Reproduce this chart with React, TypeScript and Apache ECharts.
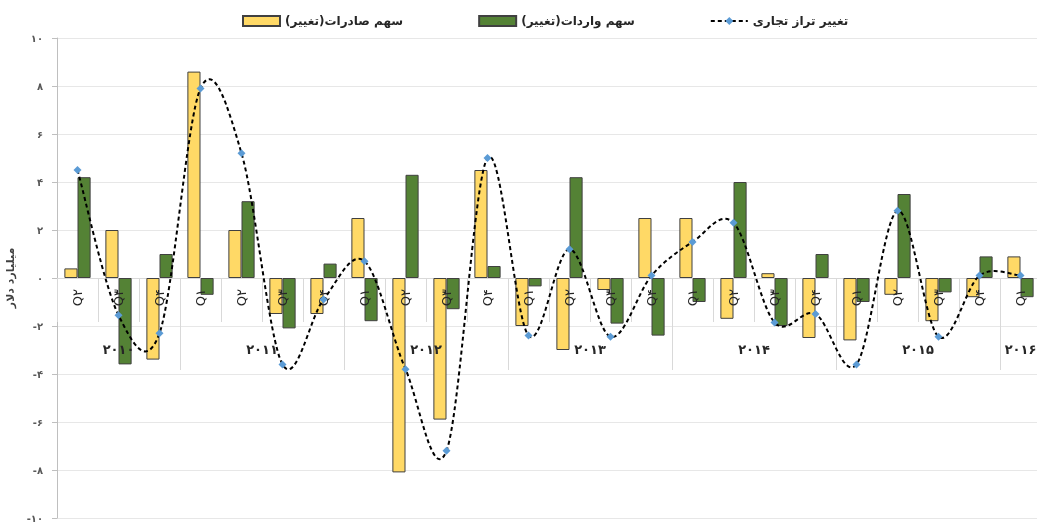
import React, { useEffect, useRef } from "react";
import * as echarts from "echarts";

const quarters = ["Q۲","Q۳","Q۴","Q۱","Q۲","Q۳","Q۴","Q۱","Q۲","Q۳","Q۴","Q۱","Q۲","Q۳","Q۴","Q۱","Q۲","Q۳","Q۴","Q۱","Q۲","Q۳","Q۴","Q۱"];
const years = ["۲۰۱۰","۲۰۱۱","۲۰۱۲","۲۰۱۳","۲۰۱۴","۲۰۱۵","۲۰۱۶"];
const quartersPerYear = [3, 4, 4, 4, 4, 4, 1];

const exportsShare = [0.4, 2.0, -3.4, 8.6, 2.0, -1.5, -1.5, 2.5, -8.1, -5.9, 4.5, -2.0, -3.0, -0.5, 2.5, 2.5, -1.7, 0.2, -2.5, -2.6, -0.7, -1.8, -0.8, 0.9];
const importsShare = [4.2, -3.6, 1.0, -0.7, 3.2, -2.1, 0.6, -1.8, 4.3, -1.3, 0.5, -0.35, 4.2, -1.9, -2.4, -1.0, 4.0, -2.0, 1.0, -1.0, 3.5, -0.6, 0.9, -0.8];
const tradeBalance = [4.5, -1.55, -2.3, 7.9, 5.2, -3.6, -0.9, 0.7, -3.8, -7.2, 5.0, -2.4, 1.2, -2.45, 0.1, 1.5, 2.3, -1.85, -1.5, -3.6, 2.8, -2.45, 0.1, 0.1];

const seriesNames = ["سهم صادرات(تغییر)", "سهم واردات(تغییر)", "تغییر تراز تجاری"];
const yAxisName = "میلیارد دلار";

const FA = "۰۱۲۳۴۵۶۷۸۹";
const toFa = (v: number | string) => String(v).replace(/\d/g, (d) => FA[Number(d)]);

const FONT = "'DejaVu Sans', sans-serif";
const GRID_LEFT = 57;
const GRID_RIGHT = -4;
const GRID_TOP = 38;
const GRID_BOTTOM = 6;

export default function App() {
  const ref = useRef<HTMLDivElement>(null);
  useEffect(() => {
    if (!ref.current) return;
    const chart = echarts.init(ref.current, null, { renderer: "svg" });

    const bounds: number[] = [0];
    quartersPerYear.forEach((n) => bounds.push(bounds[bounds.length - 1] + n));
    const centers = years.map((_, i) => (bounds[i] + bounds[i + 1]) / 2);
    const yearAt = (v: number) => {
      const i = centers.findIndex((c) => Math.abs(c - v) < 1e-6);
      return i >= 0 ? years[i] : "";
    };
    const plotH = 524 - GRID_TOP - GRID_BOTTOM;

    chart.setOption({
      animation: false,
      textStyle: { fontFamily: FONT },
      legend: {
        top: 10,
        left: 237,
        itemWidth: 37,
        itemHeight: 10,
        itemGap: 75,
        textStyle: { fontFamily: FONT, fontSize: 12, fontWeight: "bold", color: "#262626" },
        data: [
          { name: seriesNames[0], icon: "rect" },
          { name: seriesNames[1], icon: "rect" },
          {
            name: seriesNames[2],
            lineStyle: { color: "#000000", width: 2, type: [4, 3], opacity: 1 },
            itemStyle: { color: "#5B9BD5" },
          },
        ],
      },
      grid: [
        { left: GRID_LEFT, right: GRID_RIGHT, top: GRID_TOP, bottom: GRID_BOTTOM, containLabel: false, outerBoundsMode: "none" },
        { left: GRID_LEFT, right: GRID_RIGHT, top: GRID_TOP, height: plotH / 2, containLabel: false, outerBoundsMode: "none" },
      ],
      xAxis: [
        {
          type: "category",
          gridIndex: 0,
          data: quarters,
          boundaryGap: true,
          axisLine: { onZero: true, lineStyle: { color: "#D9D9D9", width: 1 } },
          axisTick: { show: false },
          axisLabel: { show: false },
          splitLine: { show: false },
        },
        {
          type: "category",
          gridIndex: 1,
          data: quarters,
          boundaryGap: true,
          position: "bottom",
          z: 10,
          axisLine: { show: false, onZero: false },
          axisTick: { show: true, length: 44, lineStyle: { color: "#D9D9D9" } },
          axisLabel: {
            rotate: 90,
            margin: 11,
            fontSize: 13,
            color: "#262626",
            fontFamily: FONT,
            interval: 0,
          },
          splitLine: { show: false },
        },
        {
          type: "value",
          gridIndex: 1,
          min: 0,
          max: bounds[bounds.length - 1],
          position: "bottom",
          z: 10,
          axisLine: { show: false, onZero: false },
          axisTick: {
            show: true,
            customValues: bounds.slice(1, -1),
            length: 92,
            lineStyle: { color: "#D9D9D9" },
          },
          axisLabel: {
            customValues: centers,
            formatter: (v: number) => yearAt(v),
            margin: 65,
            fontSize: 13,
            fontWeight: "bold",
            color: "#262626",
            fontFamily: FONT,
          },
          splitLine: { show: false },
        },
      ],
      yAxis: [
        {
          type: "value",
          gridIndex: 0,
          min: -10,
          max: 10,
          interval: 2,
          name: yAxisName,
          nameLocation: "middle",
          nameGap: 30,
          nameRotate: 90,
          nameTextStyle: { fontFamily: FONT, fontSize: 11, fontWeight: "bold", color: "#404040" },
          axisLine: { show: true, lineStyle: { color: "#BFBFBF" } },
          axisTick: { show: true, length: 5, lineStyle: { color: "#BFBFBF" } },
          axisLabel: {
            formatter: (v: number) => toFa(v),
            margin: 14,
            fontSize: 10,
            fontWeight: "bold",
            color: "#595959",
            fontFamily: FONT,
          },
          splitLine: { show: true, lineStyle: { color: "#E7E7E7" } },
        },
        {
          type: "value",
          gridIndex: 1,
          min: 0,
          max: 1,
          show: false,
        },
      ],
      series: [
        {
          name: seriesNames[0],
          type: "bar",
          data: exportsShare,
          barGap: "0%",
          barCategoryGap: "36%",
          itemStyle: { color: "#FFD966", borderColor: "#404040", borderWidth: 1 },
        },
        {
          name: seriesNames[1],
          type: "bar",
          data: importsShare,
          itemStyle: { color: "#548235", borderColor: "#404040", borderWidth: 1 },
        },
        {
          name: seriesNames[2] + "_curve",
          type: "custom",
          xAxisIndex: 0,
          yAxisIndex: 0,
          z: 11,
          silent: true,
          data: tradeBalance.map((v, i) => [i, v]),
          renderItem: (params: any, api: any) => {
            if (params.dataIndex !== 0) return null;
            const pts = tradeBalance.map((v, i) => api.coord([i, v]));
            const n = pts.length;
            let d = `M${pts[0][0]},${pts[0][1]}`;
            for (let i = 0; i < n - 1; i++) {
              const p0 = pts[Math.max(i - 1, 0)];
              const p1 = pts[i];
              const p2 = pts[i + 1];
              const p3 = pts[Math.min(i + 2, n - 1)];
              const c1x = p1[0] + (p2[0] - p0[0]) / 6;
              const c1y = p1[1] + (p2[1] - p0[1]) / 6;
              const c2x = p2[0] - (p3[0] - p1[0]) / 6;
              const c2y = p2[1] - (p3[1] - p1[1]) / 6;
              d += ` C${c1x},${c1y} ${c2x},${c2y} ${p2[0]},${p2[1]}`;
            }
            return {
              type: "path",
              shape: { pathData: d },
              style: { fill: "none", stroke: "#000000", lineWidth: 2, lineDash: [4, 3] },
            };
          },
        },
        {
          name: seriesNames[2],
          type: "line",
          data: tradeBalance,
          symbol: "diamond",
          symbolSize: 8,
          itemStyle: { color: "#5B9BD5" },
          lineStyle: { color: "#000000", width: 2, type: [4, 3], opacity: 0 },
          z: 12,
        },
      ],
    });
    return () => chart.dispose();
  }, []);
  return (
    <div
      ref={ref}
      style={{ position: "fixed", left: 0, top: 0, width: 1037, height: 524 }}
    />
  );
}
